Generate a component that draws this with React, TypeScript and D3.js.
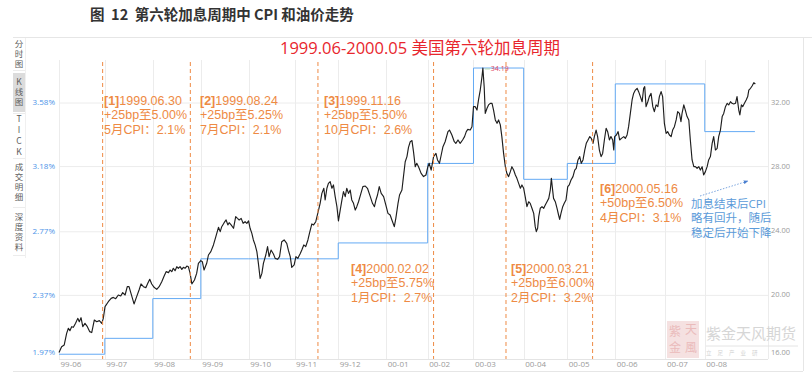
import React from "react";
import * as d3 from "d3";

// ---------- data ----------
const monthLabels = ["99-06", "99-07", "99-08", "99-09", "99-10", "99-11", "99-12", "00-01", "00-02", "00-03", "00-04", "00-05", "00-06", "00-07", "00-08"];
const monthTradingDays = [21, 22, 22, 22, 21, 20, 22, 19, 21, 23, 20, 22, 23, 18, 23];
const cpiMonthly = [2.0, 2.1, 2.35, 2.6, 2.6, 2.6, 2.7, 2.7, 3.2, 3.8, 3.1, 3.2, 3.7, 3.7, 3.4];
const cpiTicks = [1.97, 2.37, 2.77, 3.18, 3.58];
const oilTicks = [16, 20, 24, 28, 32];

// [trading-day index, oil price]
const oilSeries: [number, number][] = [
  [0, 16.4], [1.2, 16.77], [2.4, 16.88], [3.5, 17.6], [4.3, 17.92], [5.0, 17.77], [5.8, 18.02], [6.6, 17.98], [7.6, 18.23], [8.6, 18.54],
  [9.3, 18.33], [10.1, 18.58], [10.9, 18.02], [11.9, 18.23], [13.0, 18.02], [14.1, 17.71], [15.0, 17.65], [16.2, 18.44], [17.3, 18.33], [18.5, 18.4],
  [19.6, 18.23], [20.3, 18.54], [21.1, 19.27], [22.6, 19.58], [23.9, 19.79], [24.9, 19.85], [26.0, 19.77], [27.2, 20.0], [28.3, 19.94], [29.2, 20.15],
  [30.3, 20.0], [31.3, 20.52], [32.1, 20.52], [33.0, 20.1], [34.4, 19.44], [35.6, 19.9], [36.7, 20.31], [37.6, 20.69], [38.7, 20.52], [39.8, 20.46],
  [40.7, 20.73], [41.6, 20.98], [42.5, 20.69], [43.6, 20.48], [44.8, 20.35], [45.9, 20.52], [47.1, 20.83], [48.2, 21.19], [49.1, 21.46], [50.2, 21.4],
  [50.9, 21.56], [51.7, 21.46], [52.4, 21.67], [53.2, 21.52], [54.0, 21.77], [54.7, 21.67], [55.5, 21.77], [56.3, 21.6], [57.0, 21.73], [57.8, 21.67],
  [58.6, 21.81], [59.3, 21.77], [60.1, 21.35], [60.9, 20.69], [62.1, 20.94], [63.1, 21.35], [63.9, 21.98], [65.0, 22.15], [65.7, 22.08], [66.5, 21.56],
  [67.7, 21.98], [68.5, 22.5], [69.6, 22.71], [70.8, 23.13], [71.9, 23.65], [73.1, 24.23], [73.9, 23.96], [74.6, 24.27], [75.7, 24.52], [76.6, 24.69],
  [77.4, 24.38], [78.0, 24.52], [78.9, 24.38], [80.0, 24.17], [81.0, 24.9], [81.8, 24.79], [82.6, 24.69], [83.5, 24.79], [84.4, 24.48], [85.3, 24.58],
  [86.1, 24.48], [86.9, 24.63], [87.6, 24.17], [88.4, 23.85], [89.1, 23.44], [89.9, 23.13], [90.7, 22.71], [91.4, 21.98], [92.2, 21.04], [93.0, 21.35],
  [93.7, 21.98], [94.8, 22.5], [95.6, 23.02], [96.3, 22.4], [97.2, 22.81], [98.3, 22.56], [99.1, 22.29], [100.2, 22.23], [101.1, 22.4], [102.1, 23.33],
  [103.2, 23.44], [104.4, 23.23], [105.2, 22.77], [106.0, 22.4], [106.7, 21.73], [107.8, 21.88], [108.6, 22.4], [109.5, 22.29], [110.6, 22.6], [111.3, 22.81],
  [112.2, 23.13], [113.1, 23.02], [114.1, 23.44], [114.8, 23.85], [115.9, 24.44], [116.7, 24.38], [117.7, 24.58], [118.7, 25.15], [119.7, 25.73], [120.5, 26.35],
  [121.4, 26.67], [122.0, 25.94], [122.8, 26.67], [123.5, 26.98], [124.3, 27.08], [125.1, 26.67], [125.8, 26.88], [126.6, 26.15], [127.4, 25.52], [128.1, 24.63],
  [128.9, 25.31], [129.7, 25.94], [130.4, 26.46], [131.2, 26.15], [131.9, 26.67], [132.7, 26.35], [133.5, 26.56], [134.2, 25.94], [135.0, 25.73], [135.8, 25.31],
  [136.5, 25.52], [137.3, 25.83], [138.4, 26.35], [139.3, 26.77], [140.4, 26.81], [141.4, 26.67], [142.7, 26.15], [143.7, 25.73], [144.6, 25.52], [145.3, 25.94],
  [146.0, 26.25], [146.8, 26.77], [147.7, 26.35], [148.8, 26.15], [149.8, 25.63], [150.8, 25.1], [151.8, 25.0], [152.6, 24.69], [153.7, 24.27], [154.4, 24.79],
  [155.4, 25.73], [156.1, 26.25], [157.2, 26.56], [157.9, 27.4], [158.7, 28.33], [159.5, 28.65], [160.2, 29.23], [161.0, 29.58], [161.8, 29.65], [162.5, 28.96],
  [163.3, 28.02], [164.0, 28.23], [164.8, 28.02], [166.0, 27.6], [167.1, 27.4], [168.2, 27.5], [169.1, 28.02], [169.7, 28.23], [170.6, 27.81], [171.7, 28.65],
  [172.8, 28.85], [173.5, 28.44], [174.4, 28.23], [175.2, 28.75], [176.0, 29.27], [177.0, 29.58], [178.3, 30.21], [179.0, 30.31], [180.1, 30.0], [181.2, 29.58],
  [181.9, 29.48], [182.9, 29.69], [183.9, 29.48], [185.0, 29.69], [185.9, 29.9], [186.7, 30.21], [187.4, 30.35], [188.5, 30.31], [189.3, 30.52], [190.0, 31.77],
  [190.8, 31.77], [191.6, 31.56], [192.3, 32.19], [193.1, 32.81], [193.9, 33.65], [194.3, 34.19], [194.9, 33.02], [195.4, 31.35], [196.2, 31.67], [196.9, 31.88],
  [197.7, 31.98], [198.5, 31.98], [199.2, 31.56], [200.0, 30.94], [200.8, 30.73], [201.5, 30.94], [202.3, 30.63], [203.0, 29.9], [203.8, 28.85], [204.6, 28.02],
  [205.3, 27.6], [206.1, 27.4], [206.9, 27.71], [207.6, 28.02], [208.4, 27.81], [209.2, 27.5], [209.9, 27.29], [210.7, 26.98], [211.5, 26.67], [212.2, 26.88],
  [213.0, 26.67], [213.7, 26.15], [214.5, 25.52], [215.3, 25.83], [216.0, 25.73], [216.8, 25.42], [217.6, 25.1], [218.3, 24.27], [218.8, 23.96], [219.4, 24.17],
  [219.9, 24.9], [220.6, 25.42], [221.4, 25.52], [222.2, 25.42], [222.9, 25.63], [223.7, 25.83], [224.5, 26.04], [225.2, 26.56], [225.7, 27.29], [226.1, 26.77],
  [226.7, 26.04], [227.5, 25.83], [228.3, 25.42], [229.0, 25.0], [229.5, 24.73], [230.1, 25.1], [230.9, 25.52], [231.6, 25.73], [232.4, 25.94], [233.2, 26.77],
  [233.9, 26.88], [234.7, 27.19], [235.6, 27.4], [236.4, 27.81], [237.1, 27.92], [237.9, 28.44], [238.7, 28.65], [239.4, 28.23], [240.2, 28.44], [241.0, 29.06],
  [241.7, 29.48], [242.5, 29.69], [243.3, 29.9], [244.0, 29.79], [244.8, 29.48], [245.4, 29.9], [246.2, 30.31], [246.9, 29.9], [247.7, 29.06], [248.5, 28.65],
  [249.2, 28.85], [250.0, 29.69], [250.8, 30.42], [251.5, 30.21], [252.3, 29.69], [253.0, 29.9], [253.8, 29.69], [254.3, 29.06], [254.7, 29.9], [255.5, 30.0],
  [256.3, 30.21], [257.0, 29.69], [257.8, 29.79], [258.9, 29.9], [259.6, 29.79], [260.4, 30.0], [261.1, 30.52], [261.9, 31.35], [262.7, 32.19], [263.4, 32.6],
  [264.2, 32.81], [265.0, 32.92], [265.7, 32.71], [266.5, 32.4], [267.3, 32.08], [268.0, 32.92], [268.5, 33.02], [269.1, 31.77], [269.9, 32.08], [270.6, 32.4],
  [271.4, 32.6], [272.2, 31.77], [272.9, 31.46], [273.7, 31.88], [274.5, 31.77], [275.2, 32.4], [276.0, 32.71], [276.7, 32.4], [277.5, 30.73], [278.3, 30.1],
  [279.0, 30.21], [279.8, 30.0], [280.6, 29.9], [281.3, 30.31], [282.1, 30.52], [282.9, 30.94], [283.6, 31.46], [284.4, 31.35], [285.1, 30.83], [285.6, 31.35],
  [286.4, 31.88], [287.1, 31.56], [287.9, 31.15], [288.7, 30.94], [289.4, 29.69], [290.2, 28.44], [291.0, 28.02], [291.7, 28.02], [292.5, 27.92], [293.3, 28.02],
  [294.0, 27.81], [294.8, 28.02], [295.5, 27.5], [296.3, 27.71], [297.1, 28.02], [297.8, 28.44], [298.6, 28.65], [299.4, 29.48], [300.1, 29.9], [300.9, 29.06],
  [301.7, 29.17], [302.4, 29.9], [303.2, 30.31], [304.0, 31.15], [304.7, 31.35], [305.5, 31.77], [306.3, 31.98], [307.0, 31.88], [307.8, 32.08], [308.5, 31.98],
  [309.3, 31.94], [310.1, 31.98], [310.8, 32.4], [311.6, 31.56], [312.1, 31.25], [312.8, 31.88], [313.4, 31.77], [314.2, 31.98], [315.0, 32.19], [315.7, 32.4],
  [316.2, 32.81], [317.0, 32.92], [317.7, 33.06], [318.5, 33.27], [319.2, 33.19],
];

const hikeDays = [20.0, 60.2, 118.7, 171.7, 204.9, 244.6];
const hikeIds = ["[1]", "[2]", "[3]", "[4]", "[5]", "[6]"];
const hikeDates = ["1999.06.30", "1999.08.24", "1999.11.16", "2000.02.02", "2000.03.21", "2000.05.16"];
const hikeMoves = ["+25bp至5.00%", "+25bp至5.25%", "+25bp至5.50%", "+25bp至5.75%", "+25bp至6.00%", "+50bp至6.50%"];
const hikeCpi = ["5月CPI：2.1%", "7月CPI：2.1%", "10月CPI：2.6%", "1月CPI：2.7%", "2月CPI：3.2%", "4月CPI：3.1%"];

const noteLines = ["加息结束后CPI", "略有回升，随后", "稳定后开始下降"];
const sideMenu = ["分时图", "K线图", "TICK", "成交明细", "深度资料"];

// ---------- layout ----------
const W = 812, H = 377;
const PL = 59, PR = 768, PT = 60, PB = 359;
const FONT = "'Open Sans', 'Noto Sans CJK SC', sans-serif";
const CJK = "'Noto Sans CJK SC', sans-serif";
const ORANGE = "#ee8a44";
const BLUE = "#64aaf4";
const GRID = "#ececec";
const LH = 14.3;

// note placements (x, first line center y)
const notePos: [number, number][] = [[104, 102], [200, 102], [324, 102], [351, 270], [511, 270], [600, 190]];
// side menu group top y and separator y
const sideTop = [40, 78, 115, 163, 213];
const sideSep = [70, 113, 158, 207, 255];

export default function App() {
  const totalDays = d3.sum(monthTradingDays);
  const monthStarts = monthTradingDays.map((_, i) => d3.sum(monthTradingDays.slice(0, i)));

  const x = d3.scaleLinear().domain([0, 325]).range([PL, PR]);
  const yOil = d3.scaleLinear().domain([16, 32]).range([PB, 103]);
  const yCpi = d3.scaleLinear().domain([1.97, 3.58]).range([PB, 103]);

  const lastDay = oilSeries[oilSeries.length - 1][0];
  const cpiPts: [number, number][] = monthStarts.map((d, i) => [d, cpiMonthly[i]]);
  cpiPts.push([Math.min(lastDay, totalDays), cpiMonthly[cpiMonthly.length - 1]]);

  const cpiLine = d3.line<[number, number]>().x(d => x(d[0])).y(d => yCpi(d[1])).curve(d3.curveStepAfter);
  const oilLine = d3.line<[number, number]>().x(d => x(d[0])).y(d => yOil(d[1]));

  const peak = oilSeries.reduce((a, b) => (b[1] > a[1] ? b : a));

  return (
    <svg width={W} height={H} style={{ position: "absolute", left: 0, top: 0, background: "#fff" }} fontFamily={FONT}>
      {/* title */}
      <text x={90} y={20} fontSize={14.5} fontWeight={700} fill="#333" fontFamily={CJK} style={{ whiteSpace: "pre" }}>{"图  12  第六轮加息周期中 CPI 和油价走势"}</text>
      <line x1={13} x2={812} y1={37.5} y2={37.5} stroke="#e6e6e6" />
      <line x1={13} x2={803} y1={371.5} y2={371.5} stroke="#e6e6e6" />
      <line x1={803.5} x2={803.5} y1={38} y2={371} stroke="#e6e6e6" />

      {/* side menu */}
      <line x1={25.5} x2={25.5} y1={38} y2={258} stroke="#f0f0f0" />
      <rect x={13} y={73} width={12} height={39} fill="#dcdcdc" />
      {sideMenu.map((s, i) => (
        <g key={"s" + i}>
          <text x={19} y={sideTop[i]} fontSize={8.5} fill="#5c5c5c" fontFamily={CJK}
            style={{ writingMode: "vertical-rl", textOrientation: "upright" } as any}
            letterSpacing={i === 2 ? 2.2 : 1.4}>{s}</text>
          <line x1={13} x2={25} y1={sideSep[i] + 0.5} y2={sideSep[i] + 0.5} stroke="#ececec" />
        </g>
      ))}

      {/* subtitle */}
      <text x={420} y={54} fontSize={16.5} fill="#e8262d" textAnchor="middle">1999.06-2000.05 美国第六轮加息周期</text>

      {/* grid */}
      {cpiTicks.slice(1).map((t, i) => (
        <line key={"h" + i} x1={PL} x2={PR} y1={yCpi(t)} y2={yCpi(t)} stroke={GRID} />
      ))}
      {monthStarts.map((d, i) => (
        <line key={"v" + i} x1={Math.round(x(d)) + 0.5} x2={Math.round(x(d)) + 0.5} y1={PT} y2={PB} stroke={GRID} />
      ))}
      <line x1={PR + 0.5} x2={PR + 0.5} y1={PT} y2={PB} stroke={GRID} />
      <line x1={PL} x2={PR} y1={PB + 0.5} y2={PB + 0.5} stroke="#e4e4e4" />

      {/* left axis */}
      {cpiTicks.map((t, i) => (
        <text key={"l" + i} x={55} y={i === 0 ? yCpi(t) - 6 : yCpi(t)} fontSize={8} fill="#4b93e8" textAnchor="end" dominantBaseline="middle">{t.toFixed(2)}%</text>
      ))}
      {/* right axis */}
      {oilTicks.map((t, i) => (
        <text key={"r" + i} x={771} y={i === 0 ? yOil(t) - 6 : yOil(t)} fontSize={7.5} fill="#9a9a9a" dominantBaseline="middle">{t.toFixed(2)}</text>
      ))}
      {/* x axis labels */}
      {monthStarts.map((d, i) => (
        <text key={"x" + i} x={x(d) + 1.5} y={365} fontSize={8} fill="#9a9a9a" dominantBaseline="middle">{monthLabels[i]}</text>
      ))}

      {/* watermark */}
      <g opacity={0.9}>
        <rect x={667} y={321} width={32} height={37} fill="#f5dede" />
        <text x={675} y={336} fontSize={12} fill="#e8b4b4" textAnchor="middle" fontFamily={CJK}>紫</text>
        <text x={691} y={334} fontSize={12} fill="#e8b4b4" textAnchor="middle" fontFamily={CJK}>天</text>
        <text x={675} y={352} fontSize={12} fill="#e8b4b4" textAnchor="middle" fontFamily={CJK}>金</text>
        <text x={691} y={352} fontSize={12} fill="#e8b4b4" textAnchor="middle" fontFamily={CJK}>風</text>
        <text x={706} y={339} fontSize={15} fill="#d2d2d2" fontFamily={CJK}>紫金天风期货</text>
        <line x1={706} x2={798} y1={346} y2={346} stroke="#e2e2e2" />
        <text x={706} y={355} fontSize={5.5} fill="#cfcfcf" letterSpacing={6} fontFamily={CJK}>立足产业研</text>
      </g>

      {/* CPI step line */}
      <path d={cpiLine(cpiPts) || ""} fill="none" stroke={BLUE} strokeWidth={1} />
      {/* oil line */}
      <path d={oilLine(oilSeries) || ""} fill="none" stroke="#1e1e1e" strokeWidth={1.15} strokeLinejoin="round" />

      {/* hike dashed lines */}
      {hikeDays.map((d, i) => (
        <line key={"k" + i} x1={x(d)} x2={x(d)} y1={62} y2={PB} stroke={ORANGE} strokeWidth={1} strokeDasharray="4,3" />
      ))}

      {/* peak label */}
      <line x1={x(peak[0]) + 2} x2={x(peak[0]) + 7} y1={yOil(peak[1]) + 1} y2={yOil(peak[1]) + 1} stroke="#b7d9b0" />
      <text x={x(peak[0]) + 8} y={yOil(peak[1]) + 1} fontSize={7} fill="#e0405a" dominantBaseline="middle">{peak[1].toFixed(2)}</text>

      {/* hike notes: one text element per note */}
      {hikeIds.map((id, i) => {
        const [nx, ny] = notePos[i];
        return (
          <text key={"n" + i} x={nx} y={ny} fontSize={12.5} fill={ORANGE} dominantBaseline="middle" fontFamily="'Liberation Sans', 'Noto Sans CJK SC', sans-serif">
            <tspan fontWeight={700}>{id}</tspan>
            <tspan>{hikeDates[i]}</tspan>
            <tspan x={nx} dy={LH}>{hikeMoves[i]}</tspan>
            <tspan x={nx} dy={LH}>{hikeCpi[i]}</tspan>
          </text>
        );
      })}

      {/* blue note */}
      <text x={691} y={205} fontSize={11.5} fill="#5b9bd9" dominantBaseline="middle">
        {noteLines.map((l, i) => (
          <tspan key={"b" + i} x={691} dy={i === 0 ? 0 : LH}>{l}</tspan>
        ))}
      </text>
      <defs>
        <marker id="arr" viewBox="0 0 10 10" refX={9} refY={5} markerWidth={6} markerHeight={6} orient="auto">
          <path d="M0,1 L10,5 L0,9 Z" fill="#4a7fd0" />
        </marker>
      </defs>
      <line x1={700} y1={196} x2={748} y2={181} stroke="#5b8fd6" strokeWidth={0.8} strokeDasharray="1.5,1.5" markerEnd="url(#arr)" />
    </svg>
  );
}
